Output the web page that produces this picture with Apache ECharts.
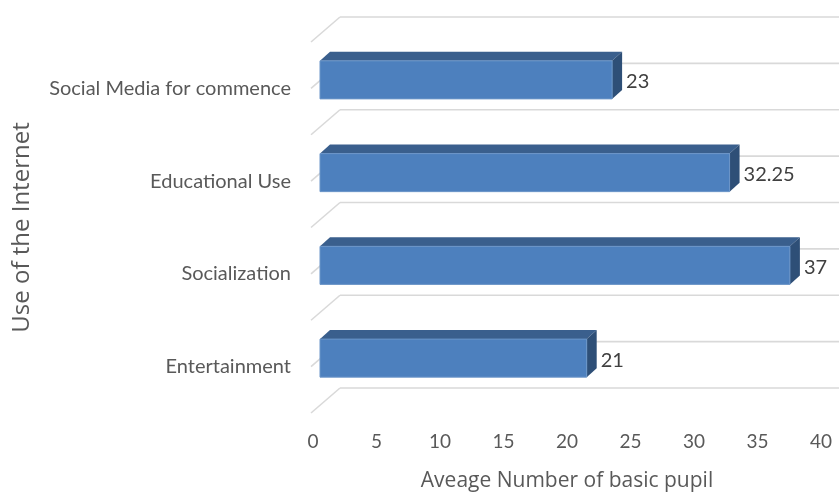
<!DOCTYPE html>
<html><head><meta charset="utf-8">
<script src="https://cdn.jsdelivr.net/npm/echarts@6/dist/echarts.min.js"></script>
<style>html,body{margin:0;padding:0;background:#fff}#c{width:839px;height:495px}</style>
</head><body><div id="c"></div>
<script>
const categories = ['Social Media for commence', 'Educational Use', 'Socialization', 'Entertainment'];
const values = [23, 32.25, 37, 21];
const xMin = 0, xMax = 40, xInterval = 5;
const xTitle = 'Aveage Number of basic pupil';
const yTitle = 'Use of the Internet';

const FONT = 'Lato';
const TFONT = 'Open Sans';
const chart = echarts.init(document.getElementById('c'), null, {renderer: 'canvas'});
const data = values.map((v, i) => [v, i]);
const last = values.length - 1;

function renderItem(params, api) {
  const v = api.value(0), c = api.value(1);
  const base = api.coord([0, c]);
  const end = api.coord([v, c]);
  const band = api.size([0, 1])[1];
  const DX = 29, DY = -25;
  const x00 = base[0] - 2;
  const farX = api.coord([xMax, c])[0] + DX + 40;
  const children = [];
  const gl = {stroke: '#d9d9d9', lineWidth: 1.6};
  const ys = [base[1] - band / 2, base[1]];
  if (params.dataIndex === last) ys.push(base[1] + band / 2);
  ys.forEach(y => {
    children.push({type: 'line', shape: {x1: x00, y1: y, x2: x00 + DX, y2: y + DY}, style: gl});
    children.push({type: 'line', shape: {x1: x00 + DX, y1: y + DY, x2: farX, y2: y + DY}, style: gl});
  });
  const f = {x: 7, y: -8.5};
  const d = {x: 10, y: -9};
  const h = band * 0.41;
  const x0 = base[0] + f.x, x1 = end[0] + f.x;
  const yc = base[1] + f.y;
  const yt = yc - h / 2, yb = yc + h / 2;
  children.push({type: 'polygon', shape: {points: [[x0, yt], [x1, yt], [x1 + d.x, yt + d.y], [x0 + d.x, yt + d.y]]}, style: {fill: '#3a5f8d'}});
  children.push({type: 'polygon', shape: {points: [[x1, yt], [x1 + d.x, yt + d.y], [x1 + d.x, yb + d.y], [x1, yb]]}, style: {fill: '#2e4f77'}});
  children.push({type: 'rect', shape: {x: x0, y: yt, width: x1 - x0, height: h}, style: {fill: '#4d80be', stroke: '#6b95c8', lineWidth: 1}});
  children.push({type: 'text', style: {x: x1 + d.x + 4, y: yc + 2, text: String(v), fill: '#404040', font: '20px ' + FONT, verticalAlign: 'middle', align: 'left'}});
  return {type: 'group', children};
}

chart.setOption({
  animation: false,
  grid: {left: 313, top: 42, width: 508, height: 371, outerBoundsMode: 'none', containLabel: false},
  xAxis: {
    type: 'value', min: xMin, max: xMax, interval: xInterval,
    axisLine: {show: false}, axisTick: {show: false}, splitLine: {show: false},
    axisLabel: {color: '#595959', fontSize: 19, fontFamily: FONT, margin: 19},
    name: xTitle, nameLocation: 'middle', nameGap: 58,
    nameTextStyle: {color: '#595959', fontSize: 21, fontFamily: TFONT}
  },
  yAxis: {
    type: 'category', data: categories, inverse: true,
    axisLine: {show: false}, axisTick: {show: false}, splitLine: {show: false},
    axisLabel: {color: '#595959', fontSize: 20, fontFamily: FONT, margin: 22},
    name: yTitle, nameLocation: 'middle', nameGap: 279, nameRotate: 90,
    nameTextStyle: {color: '#595959', fontSize: 24, fontFamily: TFONT}
  },
  series: [{type: 'custom', renderItem, data, encode: {x: 0, y: 1}, clip: false}]
});
</script></body></html>
